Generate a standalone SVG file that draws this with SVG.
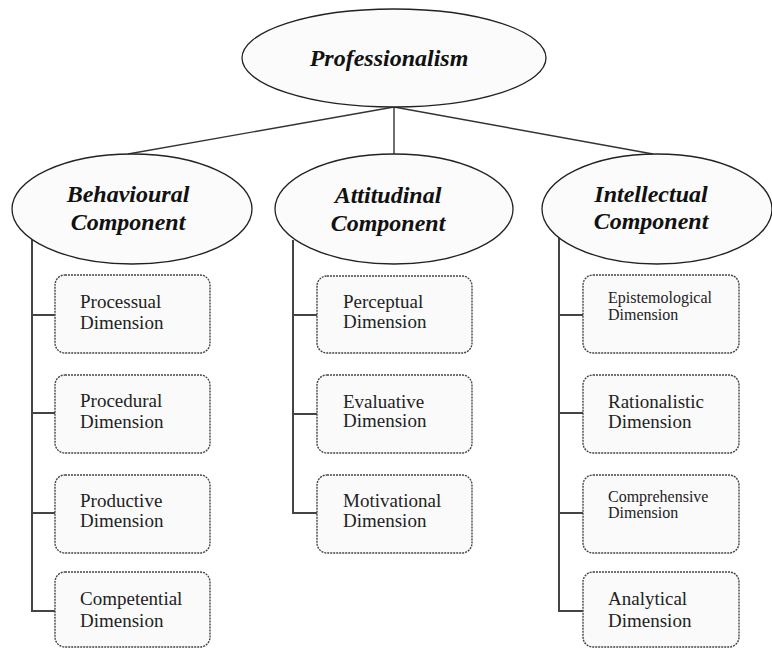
<svg xmlns="http://www.w3.org/2000/svg" width="772" height="649" viewBox="0 0 772 649">
<style>
.bg{fill:#ffffff}
.ell{fill:#fbfbfb;stroke:#222;stroke-width:1.3}
.box{fill:#fafafa;stroke:#444;stroke-width:1.4;stroke-dasharray:2 1}
.con{stroke:#333;stroke-width:1.4;fill:none}
.trunk{stroke:#444;stroke-width:2;fill:none}
.t1{font-family:"Liberation Serif","Times New Roman",serif;font-weight:bold;font-style:italic;font-size:24px;fill:#111;text-anchor:middle}
.t2{font-family:"Liberation Serif","Times New Roman",serif;font-size:19px;fill:#222}
.t3{font-family:"Liberation Serif","Times New Roman",serif;font-size:16px;fill:#222}
</style>
<rect class="bg" x="0" y="0" width="772" height="649"/>
<g id="connectors">
<line class="con" x1="394" y1="107" x2="128" y2="154"/>
<line class="con" x1="394" y1="107" x2="394" y2="155"/>
<line class="con" x1="394" y1="107" x2="653" y2="154"/>
<polyline class="trunk" points="32,237 32,611 55,611"/>
<line class="trunk" x1="32" y1="315" x2="55" y2="315"/>
<line class="trunk" x1="32" y1="413" x2="55" y2="413"/>
<line class="trunk" x1="32" y1="513" x2="55" y2="513"/>
<polyline class="trunk" points="293,240 293,513 317,513"/>
<line class="trunk" x1="293" y1="315" x2="317" y2="315"/>
<line class="trunk" x1="293" y1="414" x2="317" y2="414"/>
<polyline class="trunk" points="559,237 559,611 583,611"/>
<line class="trunk" x1="559" y1="315" x2="583" y2="315"/>
<line class="trunk" x1="559" y1="413" x2="583" y2="413"/>
<line class="trunk" x1="559" y1="513" x2="583" y2="513"/>
</g>
<g id="professionalism">
<ellipse class="ell" cx="394" cy="58" rx="152" ry="49"/>
<text class="t1" x="389" y="66">Professionalism</text>
</g>
<g id="behavioural">
<ellipse class="ell" cx="132" cy="209" rx="120" ry="55"/>
<text class="t1" x="128" y="202">Behavioural</text>
<text class="t1" x="128" y="230">Component</text>
</g>
<g id="attitudinal">
<ellipse class="ell" cx="394" cy="209" rx="119" ry="55"/>
<text class="t1" x="388" y="203">Attitudinal</text>
<text class="t1" x="388" y="231">Component</text>
</g>
<g id="intellectual">
<ellipse class="ell" cx="657" cy="209" rx="115" ry="55"/>
<text class="t1" x="651" y="202">Intellectual</text>
<text class="t1" x="651" y="229">Component</text>
</g>
<g id="processual">
<rect class="box" x="55" y="275" width="155" height="78" rx="10"/>
<text class="t2" x="80" y="308">Processual</text>
<text class="t2" x="80" y="329">Dimension</text>
</g>
<g id="procedural">
<rect class="box" x="55" y="375" width="155" height="78" rx="10"/>
<text class="t2" x="80" y="407">Procedural</text>
<text class="t2" x="80" y="428">Dimension</text>
</g>
<g id="productive">
<rect class="box" x="55" y="475" width="155" height="78" rx="10"/>
<text class="t2" x="80" y="507">Productive</text>
<text class="t2" x="80" y="527">Dimension</text>
</g>
<g id="competential">
<rect class="box" x="55" y="572" width="155" height="75" rx="10"/>
<text class="t2" x="80" y="605">Competential</text>
<text class="t2" x="80" y="627">Dimension</text>
</g>
<g id="perceptual">
<rect class="box" x="317" y="276" width="155" height="77" rx="10"/>
<text class="t2" x="343" y="308">Perceptual</text>
<text class="t2" x="343" y="328">Dimension</text>
</g>
<g id="evaluative">
<rect class="box" x="317" y="375" width="155" height="78" rx="10"/>
<text class="t2" x="343" y="408">Evaluative</text>
<text class="t2" x="343" y="427">Dimension</text>
</g>
<g id="motivational">
<rect class="box" x="317" y="475" width="155" height="78" rx="10"/>
<text class="t2" x="343" y="507">Motivational</text>
<text class="t2" x="343" y="527">Dimension</text>
</g>
<g id="epistemological">
<rect class="box" x="583" y="275" width="156" height="78" rx="10"/>
<text class="t3" x="608" y="303">Epistemological</text>
<text class="t3" x="608" y="320">Dimension</text>
</g>
<g id="rationalistic">
<rect class="box" x="583" y="375" width="156" height="78" rx="10"/>
<text class="t2" x="608" y="408">Rationalistic</text>
<text class="t2" x="608" y="428">Dimension</text>
</g>
<g id="comprehensive">
<rect class="box" x="583" y="475" width="156" height="78" rx="10"/>
<text class="t3" x="608" y="502">Comprehensive</text>
<text class="t3" x="608" y="518">Dimension</text>
</g>
<g id="analytical">
<rect class="box" x="583" y="572" width="156" height="75" rx="10"/>
<text class="t2" x="608" y="605">Analytical</text>
<text class="t2" x="608" y="627">Dimension</text>
</g>
</svg>
